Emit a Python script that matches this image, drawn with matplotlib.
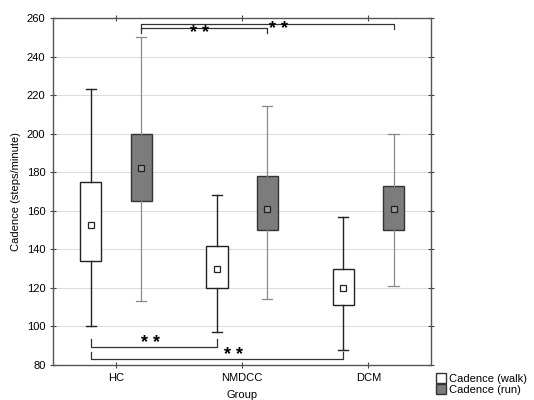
import matplotlib.pyplot as plt
from matplotlib.lines import Line2D

plt.rcParams['font.family'] = ['Liberation Sans', 'DejaVu Sans']

groups = ['HC', 'NMDCC', 'DCM']
# walk: whisker low, q1, center, q3, whisker high
walk_lo = [100, 97, 88]
walk_q1 = [134, 120, 111]
walk_mid = [152.5, 130, 120]
walk_q3 = [175, 141.5, 130]
walk_hi = [223, 168, 157]
# run
run_lo = [113, 114, 121]
run_q1 = [165, 150, 150]
run_mid = [182, 161, 161]
run_q3 = [200, 178, 173]
run_hi = [250, 214.5, 200]

def make_stats(lo, q1, mid, q3, hi):
    return [dict(whislo=a, q1=b, med=c, mean=c, q3=d, whishi=e, fliers=[])
            for a, b, c, d, e in zip(lo, q1, mid, q3, hi)]

fig = plt.figure(figsize=(5.34, 4.0), dpi=100)
ax = fig.add_axes([0.0993, 0.0875, 0.7085, 0.8675])

x = [1, 2, 3]
off = 0.2
w = 0.167

ax.bxp(make_stats(walk_lo, walk_q1, walk_mid, walk_q3, walk_hi),
       positions=[p - off for p in x], widths=w, patch_artist=True,
       showmeans=True, showcaps=True,
       boxprops=dict(facecolor='white', edgecolor='#222222', linewidth=1.0),
       whiskerprops=dict(color='#222222', linewidth=1.0),
       capprops=dict(color='#222222', linewidth=1.0),
       medianprops=dict(linewidth=0),
       meanprops=dict(marker='s', markersize=4, markerfacecolor='white',
                      markeredgecolor='#222222', markeredgewidth=0.9),
       capwidths=0.08)
ax.bxp(make_stats(run_lo, run_q1, run_mid, run_q3, run_hi),
       positions=[p + off for p in x], widths=w, patch_artist=True,
       showmeans=True, showcaps=True,
       boxprops=dict(facecolor='#7c7c7c', edgecolor='#333333', linewidth=1.0),
       whiskerprops=dict(color='#8a8a8a', linewidth=0.9),
       capprops=dict(color='#8a8a8a', linewidth=0.9),
       medianprops=dict(linewidth=0),
       meanprops=dict(marker='s', markersize=4, markerfacecolor='#9a9a9a',
                      markeredgecolor='#222222', markeredgewidth=0.9),
       capwidths=0.08)

ax.set_xlim(0.5, 3.5)
ax.set_ylim(80, 260)
ax.set_xticks(x)
ax.set_xticklabels(groups)
ax.set_yticks(range(80, 261, 20))
ax.yaxis.grid(True, color='#dddddd', linewidth=0.8)
ax.set_axisbelow(True)
ax.tick_params(axis='both', labelsize=8, direction='inout', length=4,
               top=True, right=True, color='#444444')
for s in ax.spines.values():
    s.set_color('#555555')
    s.set_linewidth(1.0)

ax.set_ylabel('Cadence (steps/minute)', fontsize=8)
ax.set_xlabel('Group', fontsize=8, labelpad=5)

# significance brackets
bk = dict(color='#333333', linewidth=0.9)
def bracket(x1, x2, y, tick, top=True):
    d = -tick if top else tick
    ax.plot([x1, x1, x2, x2], [y + d, y, y, y + d], **bk)

star = dict(ha='center', va='center', fontsize=13, fontweight='bold')
bracket(1 + off, 3 + off, 256.9, 2.5)
bracket(1 + off, 2 + off, 255.0, 2.8)
ax.text(1.66, 251.8, '* *', **star)
ax.text(2.29, 253.8, '* *', **star)
bracket(1 - off, 2 - off, 89.5, 4.0, top=False)
bracket(1 - off, 3 - off, 83.0, 4.0, top=False)
ax.text(1.27, 91.3, '* *', **star)
ax.text(1.93, 84.7, '* *', **star)

# legend outside at bottom right
h_walk = Line2D([], [], marker='s', markersize=7, linestyle='none',
                markerfacecolor='white', markeredgecolor='#333333')
h_run = Line2D([], [], marker='s', markersize=7, linestyle='none',
               markerfacecolor='#7c7c7c', markeredgecolor='#333333')
fig.legend([h_walk, h_run], ['Cadence (walk)', 'Cadence (run)'],
           loc='lower left', bbox_to_anchor=(0.81, 0.002), frameon=False,
           fontsize=8, handlelength=0.8, handletextpad=0.3, labelspacing=0.1,
           borderaxespad=0)

fig.savefig('out.png', dpi=100)
